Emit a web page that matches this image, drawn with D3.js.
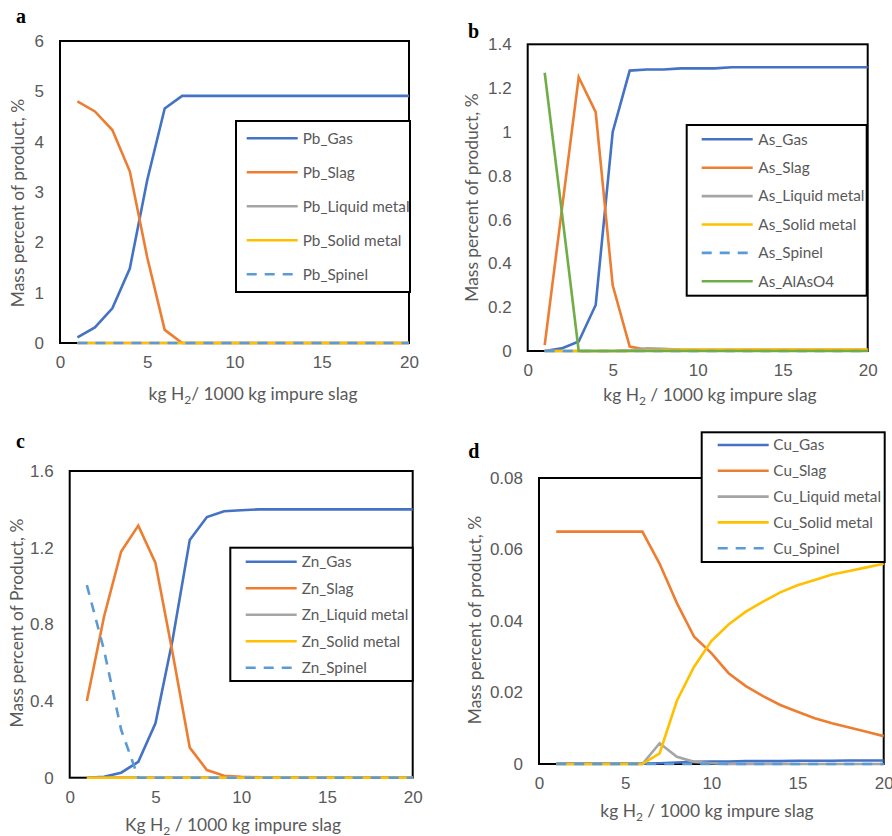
<!DOCTYPE html>
<html>
<head>
<meta charset="utf-8">
<script src="https://cdn.jsdelivr.net/npm/d3@7"></script>
<style>
    body { margin: 0; background: #fff; }
    svg { display: block; font-family: Lato, 'Open Sans', sans-serif; }
    .tick text { fill: #595959; font-size: 17px; }
    .axis-title { fill: #595959; font-size: 17.4px; }
    .legend text { fill: #595959; font-size: 15.3px; }
    .panel-label { font-family: 'Liberation Serif', serif; font-weight: bold; font-size: 20px; fill: #000; }
</style>
</head>
<body>
<div id="chart"></div>
<script>
// x values: kg H2 per 1000 kg impure slag
const hydrogen = [1, 2, 3, 4, 5, 6, 7, 8, 9, 10, 11, 12, 13, 14, 15, 16, 17, 18, 19, 20];
const xTicks = [0, 5, 10, 15, 20];

// a - lead
const pbTicks = [0, 1, 2, 3, 4, 5, 6];
const pbNames = ['Pb_Gas', 'Pb_Slag', 'Pb_Liquid metal', 'Pb_Solid metal', 'Pb_Spinel'];
const pbGas = [0.11, 0.31, 0.69, 1.48, 3.24, 4.66, 4.91, 4.91, 4.91, 4.91, 4.91, 4.91, 4.91, 4.91, 4.91, 4.91, 4.91, 4.91, 4.91, 4.91];
const pbSlag = [4.80, 4.60, 4.23, 3.41, 1.70, 0.26, 0, 0, 0, 0, 0, 0, 0, 0, 0, 0, 0, 0, 0, 0];
const pbLiquid = [0, 0, 0, 0, 0, 0, 0, 0, 0, 0, 0, 0, 0, 0, 0, 0, 0, 0, 0, 0];
const pbSolid = [0, 0, 0, 0, 0, 0, 0, 0, 0, 0, 0, 0, 0, 0, 0, 0, 0, 0, 0, 0];
const pbSpinel = [0, 0, 0, 0, 0, 0, 0, 0, 0, 0, 0, 0, 0, 0, 0, 0, 0, 0, 0, 0];

// b - arsenic
const asTicks = [0, 0.2, 0.4, 0.6, 0.8, 1, 1.2, 1.4];
const asNames = ['As_Gas', 'As_Slag', 'As_Liquid metal', 'As_Solid metal', 'As_Spinel', 'As_AlAsO4'];
const asGas = [0, 0.012, 0.043, 0.21, 1.0, 1.28, 1.285, 1.285, 1.29, 1.29, 1.29, 1.295, 1.295, 1.295, 1.295, 1.295, 1.295, 1.295, 1.295, 1.295];
const asSlag = [0.027, 0.64, 1.25, 1.09, 0.30, 0.02, 0.006, 0.005, 0.005, 0.005, 0.005, 0.005, 0.005, 0.005, 0.005, 0.005, 0.005, 0.005, 0.005, 0.005];
const asLiquid = [0, 0, 0, 0, 0, 0.003, 0.012, 0.01, 0.005, 0.003, 0.002, 0.001, 0.001, 0.001, 0.001, 0.001, 0.001, 0.001, 0.001, 0.001];
const asSolid = [0, 0, 0, 0, 0, 0, 0.002, 0.004, 0.005, 0.006, 0.006, 0.006, 0.007, 0.007, 0.007, 0.007, 0.007, 0.007, 0.007, 0.007];
const asSpinel = [0, 0, 0, 0, 0, 0, 0, 0, 0, 0, 0, 0, 0, 0, 0, 0, 0, 0, 0, 0];
const asAlAsO4 = [1.27, 0.64, 0, 0, 0, 0, 0, 0, 0, 0, 0, 0, 0, 0, 0, 0, 0, 0, 0, 0];

// c - zinc
const znTicks = [0, 0.4, 0.8, 1.2, 1.6];
const znNames = ['Zn_Gas', 'Zn_Slag', 'Zn_Liquid metal', 'Zn_Solid metal', 'Zn_Spinel'];
const znGas = [0, 0.005, 0.026, 0.083, 0.284, 0.72, 1.24, 1.36, 1.39, 1.395, 1.40, 1.40, 1.40, 1.40, 1.40, 1.40, 1.40, 1.40, 1.40, 1.40];
const znSlag = [0.40, 0.84, 1.18, 1.315, 1.12, 0.65, 0.157, 0.04, 0.01, 0.005, 0.002, 0, 0, 0, 0, 0, 0, 0, 0, 0];
const znLiquid = [0, 0, 0, 0, 0, 0, 0, 0, 0, 0, 0, 0, 0, 0, 0, 0, 0, 0, 0, 0];
const znSolid = [0, 0, 0, 0, 0, 0, 0, 0, 0, 0, 0, 0, 0, 0, 0, 0, 0, 0, 0, 0];
const znSpinel = [1.005, 0.666, 0.25, 0, 0, 0, 0, 0, 0, 0, 0, 0, 0, 0, 0, 0, 0, 0, 0, 0];

// d - copper
const cuTicks = [0, 0.02, 0.04, 0.06, 0.08];
const cuNames = ['Cu_Gas', 'Cu_Slag', 'Cu_Liquid metal', 'Cu_Solid metal', 'Cu_Spinel'];
const cuGas = [0.0001, 0.0001, 0.0001, 0.0001, 0.0001, 0.0001, 0.0002, 0.0004, 0.0006, 0.0007, 0.0007, 0.0008, 0.0008, 0.0008, 0.0009, 0.0009, 0.0009, 0.001, 0.001, 0.001];
const cuSlag = [0.065, 0.065, 0.065, 0.065, 0.065, 0.065, 0.056, 0.045, 0.0356, 0.031, 0.0254, 0.0218, 0.019, 0.0165, 0.0146, 0.0128, 0.0114, 0.0102, 0.009, 0.0078];
const cuLiquid = [0, 0, 0, 0, 0, 0, 0.0058, 0.002, 0.0006, 0.0002, 0, 0, 0, 0, 0, 0, 0, 0, 0, 0];
const cuSolid = [0, 0, 0, 0, 0, 0, 0.003, 0.0177, 0.0272, 0.0344, 0.039, 0.0426, 0.0454, 0.048, 0.050, 0.0515, 0.053, 0.054, 0.055, 0.056];
const cuSpinel = [0, 0, 0, 0, 0, 0, 0, 0, 0, 0, 0, 0, 0, 0, 0, 0, 0, 0, 0, 0];

// one style per phase, same order in every panel
const phaseStyles = [
    {color: '#4472C4'},
    {color: '#ED7D31'},
    {color: '#A5A5A5'},
    {color: '#FFC000'},
    {color: '#5B9BD5', dash: '10,8'},
    {color: '#70AD47'}
];

class PhasePlot {

    /**
     * one panel of the figure
     * @param {Object} _config layout of the panel
     * @param {Array} _series [{name, values}]
     */
    constructor(_config, _series) {
        this.config = _config;
        this.series = _series;
        this.initVis();
    }

    initVis() {
        let vis = this;
        const c = vis.config;

        vis.g = d3.select('#figure').append('g');

        vis.xScale = d3.scaleLinear()
            .domain([0, 20])
            .range([c.left, c.right]);

        vis.yScale = d3.scaleLinear()
            .domain([0, d3.max(c.yTicks)])
            .range([c.bottom, c.top]);

        vis.xAxis = d3.axisBottom(vis.xScale)
            .tickValues(xTicks)
            .tickSize(0)
            .tickPadding(13)
            .tickFormat(d3.format('~g'));

        vis.yAxis = d3.axisLeft(vis.yScale)
            .tickValues(c.yTicks)
            .tickSize(0)
            .tickPadding(16)
            .tickFormat(d3.format('~g'));

        vis.renderVis();
    }

    renderVis() {
        let vis = this;
        const c = vis.config;

        vis.g.append('g')
            .attr('transform', `translate(0,${c.bottom})`)
            .call(vis.xAxis)
            .call(g => g.select('.domain').remove());

        vis.g.append('g')
            .attr('transform', `translate(${c.left},0)`)
            .call(vis.yAxis)
            .call(g => g.select('.domain').remove());

        // plot area border
        vis.g.append('rect')
            .attr('x', c.left)
            .attr('y', c.top)
            .attr('width', c.right - c.left)
            .attr('height', c.bottom - c.top)
            .attr('fill', 'none')
            .attr('stroke', '#000')
            .attr('stroke-width', 2);

        const line = d3.line()
            .x((d, i) => vis.xScale(hydrogen[i]))
            .y(d => vis.yScale(d));

        vis.g.selectAll('.series')
            .data(vis.series)
            .join('path')
            .attr('class', 'series')
            .attr('d', d => line(d.values))
            .attr('fill', 'none')
            .attr('stroke', (d, i) => phaseStyles[i].color)
            .attr('stroke-width', 2.6)
            .attr('stroke-dasharray', (d, i) => phaseStyles[i].dash || null);

        // legend
        const lg = c.legend;
        const legend = vis.g.append('g').attr('class', 'legend');
        legend.append('rect')
            .attr('x', lg.x)
            .attr('y', lg.y)
            .attr('width', lg.w)
            .attr('height', lg.h)
            .attr('fill', '#fff')
            .attr('stroke', '#000')
            .attr('stroke-width', 2);

        const rows = legend.selectAll('.row')
            .data(vis.series)
            .join('g')
            .attr('class', 'row')
            .attr('transform', (d, i) => `translate(0,${lg.row0 + i * lg.step})`);
        rows.append('line')
            .attr('x1', lg.lineX)
            .attr('x2', lg.lineX + 51)
            .attr('stroke', (d, i) => phaseStyles[i].color)
            .attr('stroke-width', 2.6)
            .attr('stroke-dasharray', (d, i) => phaseStyles[i].dash || null);
        rows.append('text')
            .attr('x', lg.textX)
            .attr('dy', '0.35em')
            .text(d => d.name);

        // axis titles
        const xt = vis.g.append('text')
            .attr('class', 'axis-title')
            .attr('x', c.xTitle[0])
            .attr('y', c.xTitle[1])
            .attr('text-anchor', 'middle');
        xt.append('tspan').text(c.xTitleText[0]);
        xt.append('tspan').attr('dy', 4).attr('font-size', 12).text('2');
        xt.append('tspan').attr('dy', -4).text(c.xTitleText[1]);

        vis.g.append('text')
            .attr('class', 'axis-title')
            .attr('text-anchor', 'middle')
            .attr('transform', `translate(${c.yTitle[0]},${c.yTitle[1]}) rotate(-90)`)
            .attr('dy', '0.35em')
            .text(c.yTitleText);

        vis.g.append('text')
            .attr('class', 'panel-label')
            .attr('x', c.label[0])
            .attr('y', c.label[1])
            .text(c.labelText);
    }
}

const svg = d3.select('#chart')
    .append('svg')
    .attr('width', 892)
    .attr('height', 836);
svg.append('g').attr('id', 'figure');

const toSeries = (names, arrays) => names.map((name, i) => ({name: name, values: arrays[i]}));

new PhasePlot({
    left: 60, right: 409, top: 41, bottom: 343, yTicks: pbTicks,
    legend: {x: 236, y: 121, w: 174, h: 171, row0: 138.3, step: 34, lineX: 246.7, textX: 302.7},
    xTitle: [253, 400], xTitleText: ['kg H', '/ 1000 kg impure slag'],
    yTitle: [18.3, 203], yTitleText: 'Mass percent of product, %',
    label: [16, 23], labelText: 'a'
}, toSeries(pbNames, [pbGas, pbSlag, pbLiquid, pbSolid, pbSpinel]));

new PhasePlot({
    left: 527.7, right: 867.7, top: 44.3, bottom: 351, yTicks: asTicks,
    legend: {x: 686.7, y: 125, w: 180, h: 170.7, row0: 139.3, step: 28.4, lineX: 701.7, textX: 758.3},
    xTitle: [710, 401], xTitleText: ['kg H', ' / 1000 kg impure slag'],
    yTitle: [471.7, 197.5], yTitleText: 'Mass percent of product, %',
    label: [468, 38.3], labelText: 'b'
}, toSeries(asNames, [asGas, asSlag, asLiquid, asSolid, asSpinel, asAlAsO4]));

new PhasePlot({
    left: 69.7, right: 412.7, top: 471, bottom: 777.7, yTicks: znTicks,
    legend: {x: 230.3, y: 547.7, w: 182.4, h: 133.3, row0: 561.7, step: 26.5, lineX: 245.7, textX: 301.7},
    xTitle: [233, 830.7], xTitleText: ['Kg H', ' / 1000 kg impure slag'],
    yTitle: [16.7, 623], yTitleText: 'Mass percent of Product, %',
    label: [16, 447.7], labelText: 'c'
}, toSeries(znNames, [znGas, znSlag, znLiquid, znSolid, znSpinel]));

new PhasePlot({
    left: 539, right: 883.7, top: 478, bottom: 764, yTicks: cuTicks,
    legend: {x: 701.7, y: 432.3, w: 183, h: 129.7, row0: 445, step: 25.8, lineX: 717.7, textX: 773.3},
    xTitle: [707, 817], xTitleText: ['kg H', ' / 1000 kg impure slag'],
    yTitle: [475, 620], yTitleText: 'Mass percent of product, %',
    label: [468.3, 458.3], labelText: 'd'
}, toSeries(cuNames, [cuGas, cuSlag, cuLiquid, cuSolid, cuSpinel]));
</script>
</body>
</html>
